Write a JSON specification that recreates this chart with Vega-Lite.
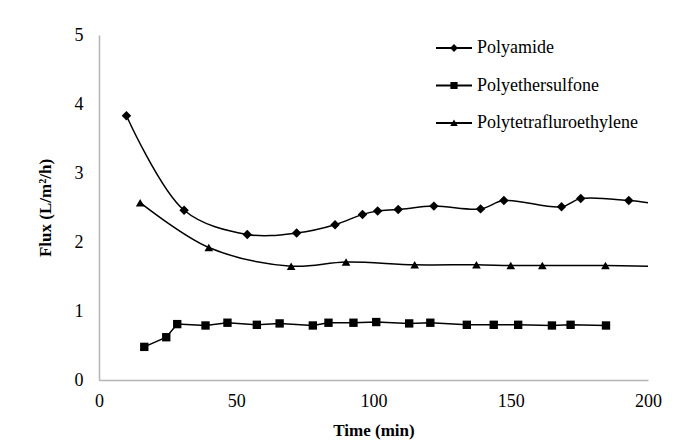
{
  "$schema": "https://vega.github.io/schema/vega-lite/v6.json",
  "width": 549,
  "height": 345,
  "autosize": {"type": "none"},
  "padding": {"left": 99, "top": 35, "right": 29, "bottom": 67},
  "background": "white",
  "config": {
    "view": {"stroke": null},
    "font": "Liberation Serif",
    "axis": {
      "grid": false,
      "ticks": false,
      "domainColor": "#b4b4b4",
      "domainWidth": 1.5,
      "labelFont": "Liberation Serif",
      "labelFontSize": 18,
      "labelColor": "#000000",
      "titleFont": "Liberation Serif",
      "titleFontSize": 17,
      "titleFontWeight": "bold",
      "titleColor": "#000000"
    },
    "legend": {"labelFont": "Liberation Serif", "labelFontSize": 18, "labelLimit": 400}
  },
  "data": {
    "values": [
      {"t": 10, "flux": 3.83, "series": "Polyamide"},
      {"t": 31, "flux": 2.46, "series": "Polyamide"},
      {"t": 54, "flux": 2.11, "series": "Polyamide"},
      {"t": 72, "flux": 2.13, "series": "Polyamide"},
      {"t": 86, "flux": 2.25, "series": "Polyamide"},
      {"t": 96, "flux": 2.4, "series": "Polyamide"},
      {"t": 101.5, "flux": 2.45, "series": "Polyamide"},
      {"t": 109, "flux": 2.47, "series": "Polyamide"},
      {"t": 122, "flux": 2.52, "series": "Polyamide"},
      {"t": 139, "flux": 2.48, "series": "Polyamide"},
      {"t": 147.5, "flux": 2.6, "series": "Polyamide"},
      {"t": 168.5, "flux": 2.51, "series": "Polyamide"},
      {"t": 175.5, "flux": 2.63, "series": "Polyamide"},
      {"t": 193, "flux": 2.6, "series": "Polyamide"},
      {"t": 200, "flux": 2.57, "series": "Polyamide"},
      {"t": 16.5, "flux": 0.48, "series": "Polyethersulfone"},
      {"t": 24.5, "flux": 0.62, "series": "Polyethersulfone"},
      {"t": 28.5, "flux": 0.81, "series": "Polyethersulfone"},
      {"t": 38.8, "flux": 0.79, "series": "Polyethersulfone"},
      {"t": 46.8, "flux": 0.83, "series": "Polyethersulfone"},
      {"t": 57.5, "flux": 0.8, "series": "Polyethersulfone"},
      {"t": 65.8, "flux": 0.82, "series": "Polyethersulfone"},
      {"t": 77.9, "flux": 0.79, "series": "Polyethersulfone"},
      {"t": 83.6, "flux": 0.83, "series": "Polyethersulfone"},
      {"t": 92.7, "flux": 0.83, "series": "Polyethersulfone"},
      {"t": 101, "flux": 0.84, "series": "Polyethersulfone"},
      {"t": 113, "flux": 0.82, "series": "Polyethersulfone"},
      {"t": 120.7, "flux": 0.83, "series": "Polyethersulfone"},
      {"t": 134, "flux": 0.8, "series": "Polyethersulfone"},
      {"t": 143.8, "flux": 0.8, "series": "Polyethersulfone"},
      {"t": 152.7, "flux": 0.8, "series": "Polyethersulfone"},
      {"t": 165, "flux": 0.79, "series": "Polyethersulfone"},
      {"t": 171.8, "flux": 0.8, "series": "Polyethersulfone"},
      {"t": 184.7, "flux": 0.79, "series": "Polyethersulfone"},
      {"t": 15, "flux": 2.57, "series": "Polytetrafluroethylene"},
      {"t": 40, "flux": 1.92, "series": "Polytetrafluroethylene"},
      {"t": 70, "flux": 1.65, "series": "Polytetrafluroethylene"},
      {"t": 90, "flux": 1.71, "series": "Polytetrafluroethylene"},
      {"t": 115, "flux": 1.67, "series": "Polytetrafluroethylene"},
      {"t": 137.5, "flux": 1.67, "series": "Polytetrafluroethylene"},
      {"t": 150, "flux": 1.66, "series": "Polytetrafluroethylene"},
      {"t": 161.5, "flux": 1.66, "series": "Polytetrafluroethylene"},
      {"t": 184.5, "flux": 1.66, "series": "Polytetrafluroethylene"},
      {"t": 200, "flux": 1.65, "series": "Polytetrafluroethylene"}
    ]
  },
  "encoding": {
    "x": {
      "field": "t",
      "type": "quantitative",
      "scale": {"domain": [0, 200], "nice": false, "zero": true},
      "axis": {"values": [0, 50, 100, 150, 200], "title": "Time (min)", "labelPadding": 12, "titlePadding": 12, "labelFlush": false}
    },
    "y": {
      "field": "flux",
      "type": "quantitative",
      "scale": {"domain": [0, 5], "nice": false},
      "axis": {"values": [0, 1, 2, 3, 4, 5], "title": "Flux (L/m²/h)", "labelPadding": 16, "titlePadding": 20}
    }
  },
  "layer": [
    {
      "transform": [{"filter": "datum.series !== 'Polyethersulfone'"}],
      "mark": {"type": "line", "interpolate": "catmull-rom", "color": "#000000", "strokeWidth": 1.5},
      "encoding": {"detail": {"field": "series"}}
    },
    {
      "transform": [{"filter": "datum.series === 'Polyethersulfone'"}],
      "mark": {"type": "line", "interpolate": "linear", "color": "#000000", "strokeWidth": 1.5},
      "encoding": {"detail": {"field": "series"}}
    },
    {
      "transform": [{"filter": "datum.series === 'Polyamide' && datum.t < 199"}],
      "mark": {"type": "point", "filled": true, "color": "#000000", "opacity": 1, "size": 90, "shape": "diamond"},
      "encoding": {}
    },
    {
      "transform": [{"filter": "datum.series === 'Polyethersulfone'"}],
      "mark": {"type": "point", "filled": true, "color": "#000000", "opacity": 1, "size": 70, "shape": "square"},
      "encoding": {}
    },
    {
      "transform": [{"filter": "datum.series === 'Polytetrafluroethylene' && datum.t < 199"}],
      "mark": {"type": "point", "filled": true, "color": "#000000", "opacity": 1, "size": 75, "shape": "triangle-up"},
      "encoding": {}
    },
    {
      "mark": {"type": "point", "filled": true, "color": "#000000", "opacity": 0},
      "encoding": {
        "shape": {
          "field": "series",
          "type": "nominal",
          "scale": {
            "domain": ["Polyamide", "Polyethersulfone", "Polytetrafluroethylene"],
            "range": [
              "M-1,-0.05H1V0.05H-1ZM0,-0.22L0.22,0L0,0.22L-0.22,0Z",
              "M-1,-0.05H1V0.05H-1ZM-0.2,-0.2H0.2V0.2H-0.2Z",
              "M-1,-0.05H1V0.05H-1ZM0,-0.2L0.21,0.17H-0.21Z"
            ]
          },
          "legend": {
            "title": null,
            "orient": "none",
            "legendX": 337,
            "legendY": -5,
            "padding": 0,
            "symbolSize": 1296,
            "symbolFillColor": "#000000",
            "symbolStrokeColor": "#000000",
            "symbolStrokeWidth": 0,
            "symbolOpacity": 1,
            "labelColor": "#000000",
            "labelOffset": 5,
            "labelLimit": 400,
            "rowPadding": 10.5,
            "encode": {"symbols": {"update": {"opacity": {"value": 1}, "fill": {"value": "#000000"}, "fillOpacity": {"value": 1}, "size": {"value": 1296}}}}
          }
        }
      }
    }
  ]
}
